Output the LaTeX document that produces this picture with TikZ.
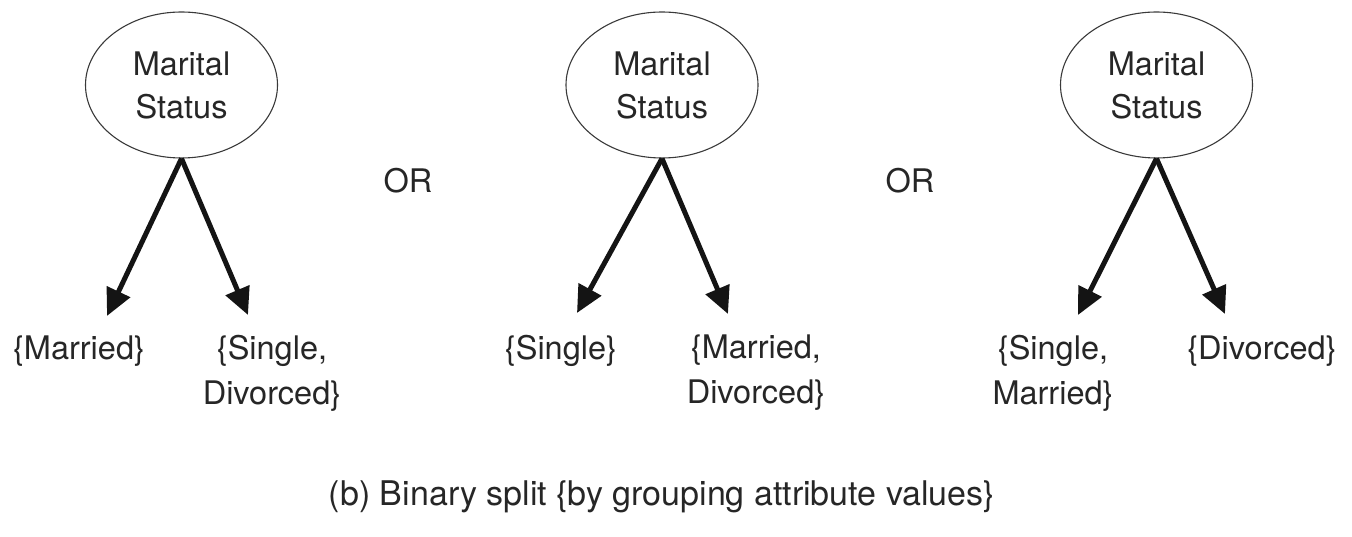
\documentclass[tikz,border=0pt]{standalone}
\usepackage{fontspec}
\setmainfont{TeX Gyre Heros}
\usetikzlibrary{shapes.geometric,arrows.meta}

\definecolor{ink}{HTML}{262626}
\definecolor{rim}{HTML}{3A3A3A}
\definecolor{shaft}{HTML}{141414}

\tikzset{
  attr/.style={ellipse, draw=rim, line width=1.1pt, minimum width=192pt,
    minimum height=146pt, inner sep=0pt, align=center, text=ink,
    font=\fontsize{32.5}{43}\selectfont},
  val/.style={align=center, text=ink, inner sep=0pt,
    font=\fontsize{32.5}{45}\selectfont},
  orword/.style={text=ink, inner sep=0pt, font=\fontsize{32.5}{40}\selectfont},
  branch/.style={draw=shaft, line width=5pt,
    -{Triangle[length=27pt,width=25pt]}, shorten >=0pt}
}

\begin{document}
\begin{tikzpicture}[x=1pt,y=-1pt]
  \useasboundingbox (0,0) rectangle (1352,537);

  % three ways of splitting the same attribute
  \node[attr] (m1) at (181.5,85) {Marital\\Status};
  \node[attr] (m2) at (662,85)   {Marital\\Status};
  \node[attr] (m3) at (1156.5,85) {Marital\\Status};

  \node[orword] (or1) at (408,181) {OR};
  \node[orword] (or2) at (910,181) {OR};

  % arrow ends
  \coordinate (t1l) at (107,316);
  \coordinate (t1r) at (248,315);
  \coordinate (t2l) at (577,313);
  \coordinate (t2r) at (728,314);
  \coordinate (t3l) at (1078,315);
  \coordinate (t3r) at (1225,314);

  \draw[branch] (m1.south) -- (t1l);
  \draw[branch] (m1.south) -- (t1r);
  \draw[branch] (m2.south) -- (t2l);
  \draw[branch] (m2.south) -- (t2r);
  \draw[branch] (m3.south) -- (t3l);
  \draw[branch] (m3.south) -- (t3r);

  % value groups
  \node[val] (v1a) at (79,351)   {\{Married\}};
  \node[val] (v1b) at (272,373)  {\{Single,\\Divorced\}};
  \node[val] (v2a) at (561,351)  {\{Single\}};
  \node[val] (v2b) at (756,373)  {\{Married,\\Divorced\}};
  \node[val] (v3a) at (1053,373) {\{Single,\\Married\}};
  \node[val] (v3b) at (1262,351) {\{Divorced\}};

  \node[text=ink, inner sep=0pt, font=\fontsize{34}{40}\selectfont] (cap)
    at (662,497) {(b) Binary split \{by grouping attribute values\}};
\end{tikzpicture}
\end{document}
